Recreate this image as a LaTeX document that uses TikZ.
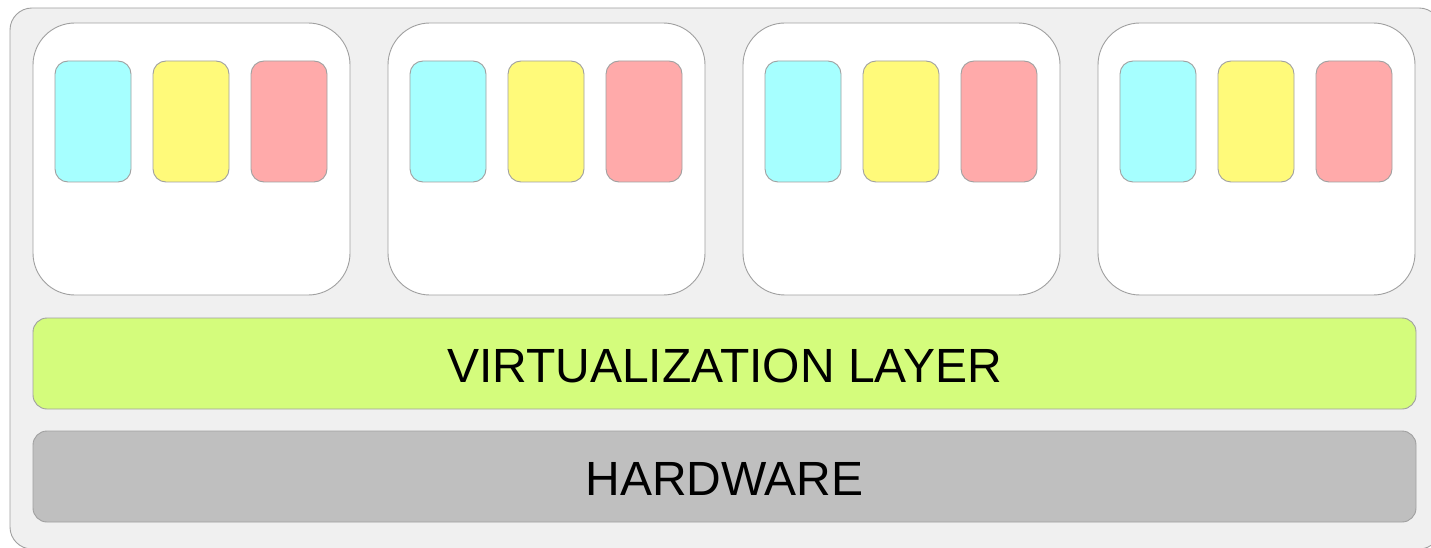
\documentclass[tikz,border=0pt]{standalone}
\usepackage{fontspec}
\setmainfont{Liberation Sans}
\definecolor{bgc}{RGB}{240,240,240}
\definecolor{edgec}{RGB}{160,160,160}
\definecolor{cyanc}{RGB}{166,255,255}
\definecolor{yellowc}{RGB}{255,250,122}
\definecolor{redc}{RGB}{255,170,170}
\definecolor{greenc}{RGB}{212,252,124}
\definecolor{grayc}{RGB}{191,191,191}
\tikzset{
  box/.style={draw=edgec, line width=0.9pt, inner sep=0pt, outer sep=0pt, anchor=north west},
  outerbox/.style={box, fill=bgc, rounded corners=22pt, minimum width=1431pt, minimum height=541pt},
  vmbox/.style={box, fill=white, rounded corners=42pt, minimum width=317pt, minimum height=272pt},
  app/.style={box, rounded corners=13pt, minimum width=76pt, minimum height=121pt},
  bar/.style={box, rounded corners=14pt, minimum width=1383pt, minimum height=91pt},
  bartext/.style={font=\fontsize{48}{48}\selectfont, inner sep=0pt, text=black}
}
\begin{document}
\begin{tikzpicture}[x=1pt,y=-1pt]
\useasboundingbox (0,0) rectangle (1431,548);
\clip (0,0) rectangle (1431,548);
\node[outerbox] (outer) at (10,8) {};
\foreach \i/\x in {1/33,2/388,3/743,4/1098}{
  \node[vmbox] (vm\i) at (\x,23) {};
  \node[app, fill=cyanc] (c\i) at ([xshift=22pt,yshift=-38pt]vm\i.north west) {};
  \node[app, fill=yellowc] (y\i) at ([xshift=120pt,yshift=-38pt]vm\i.north west) {};
  \node[app, fill=redc] (r\i) at ([xshift=218pt,yshift=-38pt]vm\i.north west) {};
}
\node[bar, fill=greenc] (virt) at (33,318) {};
\node[bar, fill=grayc] (hw) at (33,431) {};
\node[bartext] (virtlabel) at (724.5,365.5) {VIRTUALIZATION LAYER};
\node[bartext] (hwlabel) at (724.5,479) {HARDWARE};
\end{tikzpicture}
\end{document}
